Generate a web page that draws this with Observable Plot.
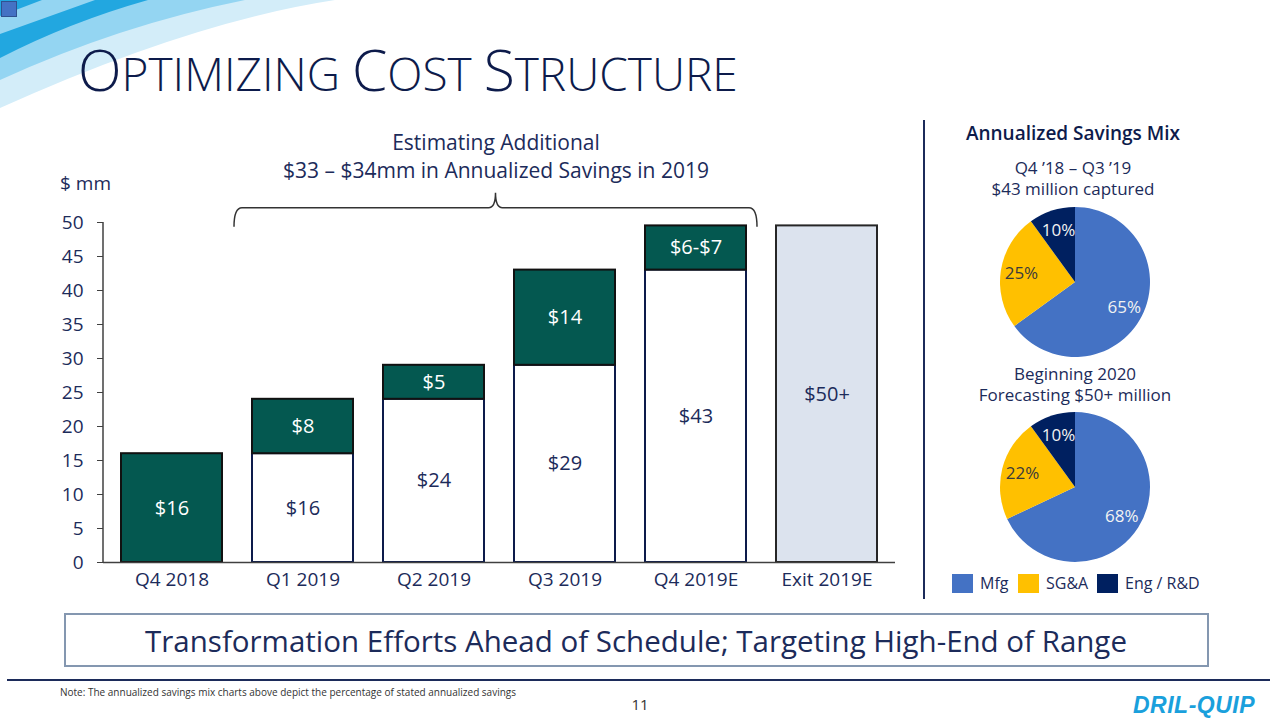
<!DOCTYPE html>
<html><head><meta charset="utf-8">
<script src="https://cdn.jsdelivr.net/npm/d3@7"></script>
<script src="https://cdn.jsdelivr.net/npm/@observablehq/plot@0.6"></script>
<style>
html,body{margin:0;padding:0;background:#fff;}
#page{position:relative;width:1280px;height:720px;overflow:hidden;font-family:"Open Sans",sans-serif;background:#fff;}
.abs{position:absolute;}
</style></head><body>
<div id="page">
<svg id="deco" class="abs" style="left:0;top:0" width="1280" height="720" font-family="Open Sans, sans-serif">
  <path d="M0,0 H335 Q190,22 0,108 Z" fill="#D3EDF9"/>
  <path d="M0,0 H245 Q120,25 0,80 Z" fill="#94D5F2"/>
  <path d="M0,34 L95,0 H148 Q70,22 0,58 Z" fill="#22A7E0"/>
  <path d="M0,0 H42 L0,16 Z" fill="#22A7E0"/>
  <rect x="1.5" y="1.5" width="15" height="15" fill="#4472C4" stroke="#2F528F" stroke-width="1"/>
  <text x="78" y="91" fill="#0D1B4B" font-size="46" font-weight="300"><tspan font-size="57">O</tspan>PTIMIZING <tspan font-size="57">C</tspan>OST <tspan font-size="57">S</tspan>TRUCTURE</text>
  <text x="60" y="190" fill="#1C2B5A" font-size="19">$ mm</text>
  <text x="496" y="150" fill="#1C2B5A" font-size="21" text-anchor="middle">Estimating Additional</text>
  <text x="496" y="178" fill="#1C2B5A" font-size="21" text-anchor="middle">$33 – $34mm in Annualized Savings in 2019</text>
  <line x1="924" y1="120" x2="924" y2="599" stroke="#1C2B5A" stroke-width="2"/>
  <text x="1073" y="140" fill="#0D1B4B" font-size="19" font-weight="600" text-anchor="middle">Annualized Savings Mix</text>
  <text x="1073" y="174" fill="#1C2B5A" font-size="17" text-anchor="middle">Q4 ’18 – Q3 ’19</text>
  <text x="1073" y="195" fill="#1C2B5A" font-size="17" text-anchor="middle">$43 million captured</text>
  <text x="1075" y="380" fill="#1C2B5A" font-size="17" text-anchor="middle">Beginning 2020</text>
  <text x="1075" y="401" fill="#1C2B5A" font-size="17" text-anchor="middle">Forecasting $50+ million</text>
  <g id="legend"></g>
  <rect x="65" y="614" width="1143" height="52" fill="none" stroke="#8497B0" stroke-width="2"/>
  <text x="636" y="652" fill="#1C2B5A" font-size="29.5" text-anchor="middle">Transformation Efforts Ahead of Schedule; Targeting High-End of Range</text>
  <line x1="7" y1="680" x2="1270" y2="680" stroke="#1C2B5A" stroke-width="2"/>
  <text x="60" y="696" fill="#333333" font-size="10">Note: The annualized savings mix charts above depict the percentage of stated annualized savings</text>
  <text x="640" y="710" fill="#333333" font-size="15" text-anchor="middle">11</text>
  <text x="1133" y="713" fill="#1AA0DC" font-size="23" font-weight="bold" font-style="italic" letter-spacing="0.5" font-family="Liberation Sans, sans-serif">DRIL-QUIP</text>
</svg>
<div id="bars" class="abs" style="left:0;top:180px"></div>
<div id="pie1" class="abs" style="left:990px;top:197px"></div>
<div id="pie2" class="abs" style="left:990px;top:402px"></div>
</div>
<script>
// ---- data ----
const categories = ["Q4 2018", "Q1 2019", "Q2 2019", "Q3 2019", "Q4 2019E", "Exit 2019E"];
const capturedValues = [0, 16, 24, 29, 43];          // previously captured savings (white)
const addedValues = [16, 8, 5, 14, 6.5];             // incremental savings (green)
const capturedLabels = ["", "$16", "$24", "$29", "$43"];
const addedLabels = ["$16", "$8", "$5", "$14", "$6-$7"];
const exitValue = 49.5;
const exitLabel = "$50+";
const yTicks = [0, 5, 10, 15, 20, 25, 30, 35, 40, 45, 50];
const bracketFrom = "Q1 2019";
const bracketTo = "Q4 2019E";

const mixCategories = ["Mfg", "SG&A", "Eng / R&D"];
const mixColors = ["#4472C4", "#FFC000", "#002060"];
const mixLabelColors = ["#F2F2F2", "#3B3B3B", "#F2F2F2"];
const mixCaptured = [65, 25, 10];
const mixForecast = [68, 22, 10];

// ---- bar chart ----
const navy = "#1C2B5A";
const stackRows = categories.slice(0, 5).map((cat, i) => ({
  cat, base: capturedValues[i], top: capturedValues[i] + addedValues[i],
  baseLabel: capturedLabels[i], addLabel: addedLabels[i]
}));
const exitRows = [{cat: categories[5], value: exitValue, label: exitLabel}];

function yAxisLine(index, scales, values, dims) {
  const l = document.createElementNS("http://www.w3.org/2000/svg", "line");
  l.setAttribute("x1", dims.marginLeft); l.setAttribute("x2", dims.marginLeft);
  l.setAttribute("y1", scales.y(yTicks[yTicks.length - 1])); l.setAttribute("y2", scales.y(0));
  l.setAttribute("stroke", "#404040"); l.setAttribute("stroke-width", 1.5);
  return l;
}
function bracket(index, scales) {
  const x = scales.x;
  const bw = typeof x.bandwidth === "function" ? x.bandwidth() : (x(categories[1]) - x(categories[0])) * 0.773;
  const x0 = x(bracketFrom) - 18, x1 = x(bracketTo) + bw + 11, xm = (x0 + x1) / 2;
  const yb = scales.y(52.1), yt = scales.y(54.3), ye = scales.y(49.3);
  const p = document.createElementNS("http://www.w3.org/2000/svg", "path");
  p.setAttribute("d", `M${x0},${ye} Q${x0},${yb} ${x0 + 8},${yb} L${xm - 7},${yb} Q${xm},${yb} ${xm},${yt} Q${xm},${yb} ${xm + 7},${yb} L${x1 - 8},${yb} Q${x1},${yb} ${x1},${ye}`);
  p.setAttribute("fill", "none"); p.setAttribute("stroke", "#333"); p.setAttribute("stroke-width", 1.5);
  return p;
}

const bars = Plot.plot({
  width: 900, height: 420,
  marginLeft: 103, marginRight: 5, marginTop: 42, marginBottom: 38,
  x: {domain: categories, paddingInner: 0.227, paddingOuter: 0.114, label: null},
  y: {domain: [0, 50], label: null},
  style: {fontFamily: "Open Sans, sans-serif", background: "transparent", overflow: "visible", color: navy},
  marks: [
    Plot.barY(stackRows.filter(d => d.base > 0), {x: "cat", y1: 0, y2: "base", fill: "white", stroke: "#0D1B4B", strokeWidth: 2}),
    Plot.barY(stackRows, {x: "cat", y1: "base", y2: "top", fill: "#045850", stroke: "#111", strokeWidth: 2}),
    Plot.barY(exitRows, {x: "cat", y1: 0, y2: "value", fill: "#DCE3EE", stroke: "#262626", strokeWidth: 2}),
    Plot.ruleY([0], {stroke: "#404040", strokeWidth: 1.5}),
    yAxisLine,
    Plot.axisY({ticks: yTicks, tickSize: 6, tickPadding: 14, fontSize: 19, fill: navy, stroke: "#404040", label: null}),
    Plot.axisX({tickSize: 0, tickPadding: 10, fontSize: 19, fill: navy, label: null}),
    Plot.text(stackRows.filter(d => d.base > 0), {x: "cat", y: d => d.base / 2, text: "baseLabel", fill: navy, fontSize: 20}),
    Plot.text(stackRows, {x: "cat", y: d => (d.base + d.top) / 2, text: "addLabel", fill: "white", fontSize: 20}),
    Plot.text(exitRows, {x: "cat", y: d => d.value / 2, text: "label", fill: navy, fontSize: 20}),
    bracket
  ]
});
document.getElementById("bars").appendChild(bars);

// ---- pies ----
function piePlot(values) {
  const total = d3.sum(values);
  let acc = 0;
  const labels = values.map((v, i) => {
    const mid = (acc + v / 2) / total * 2 * Math.PI; acc += v;
    return {x: 0.73 * Math.sin(mid), y: 0.73 * Math.cos(mid), text: v + "%", color: mixLabelColors[i]};
  });
  function arcs(index, scales) {
    const cx = scales.x(0), cy = scales.y(0), r = scales.x(1) - scales.x(0);
    const g = d3.create("svg:g").attr("transform", `translate(${cx},${cy})`);
    const arcData = d3.pie().sort(null)(values);
    g.selectAll("path").data(arcData).join("path")
      .attr("d", d3.arc().innerRadius(0).outerRadius(r))
      .attr("fill", (d, i) => mixColors[i]);
    return g.node();
  }
  return Plot.plot({
    width: 170, height: 170, margin: 10,
    x: {domain: [-1, 1], axis: null}, y: {domain: [-1, 1], axis: null},
    color: {type: "identity"},
    style: {fontFamily: "Open Sans, sans-serif", background: "transparent", overflow: "visible"},
    marks: [arcs, Plot.text(labels, {x: "x", y: "y", text: "text", fill: "color", fontSize: 17})]
  });
}
document.getElementById("pie1").appendChild(piePlot(mixCaptured));
document.getElementById("pie2").appendChild(piePlot(mixForecast));

// ---- legend ----
const legendX = [952, 1018, 1097];
const lg = d3.select("#legend");
mixCategories.forEach((c, i) => {
  lg.append("rect").attr("x", legendX[i]).attr("y", 574).attr("width", 21).attr("height", 19).attr("fill", mixColors[i]);
  lg.append("text").attr("x", legendX[i] + 28).attr("y", 589).attr("fill", navy).attr("font-size", 16).text(c);
});
</script>
</body></html>
